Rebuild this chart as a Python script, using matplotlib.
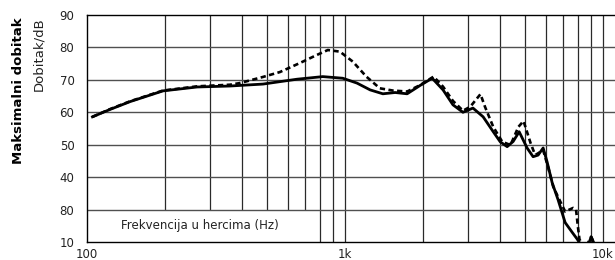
import matplotlib.pyplot as plt
import numpy as np

# frequency response
solid_f = [105, 123, 147, 197, 267, 358, 481, 652, 820, 980, 1113, 1252, 1402, 1564,
           1741, 1957, 2177, 2399, 2621, 2866, 3133, 3431, 3755, 3996, 4251, 4485,
           4732, 5079, 5359, 5604, 5862, 6072, 6352, 6699, 6943, 7133, 7593, 7942,
           8304, 8761, 8999, 9242]
solid_db = [58.6, 60.9, 63.3, 66.6, 67.8, 68.1, 68.7, 70.2, 71.0, 70.5, 69.0, 66.9,
            65.7, 66.1, 65.7, 68.3, 70.5, 66.9, 62.3, 60.0, 61.3, 58.6, 54.0, 50.9,
            49.4, 51.0, 54.0, 49.0, 46.3, 46.8, 49.0, 44.7, 38.3, 33.0, 29.0, 26.0,
            23.0, 20.9, 18.5, 19.0, 21.6, 19.5]

dashed_f = [105, 123, 147, 197, 267, 358, 391, 481, 559, 669, 779, 858, 956, 1073,
            1210, 1364, 1533, 1741, 1957, 2205, 2399, 2621, 2866, 3058, 3350, 3488,
            3755, 4070, 4380, 4700, 4920, 5240, 5458, 5862, 6130, 6416, 6780, 7133,
            7660, 7862, 7985, 8107, 8517, 8999, 9242]
dashed_db = [58.6, 61.0, 63.4, 66.7, 68.0, 68.5, 69.0, 70.9, 72.4, 75.2, 77.7, 79.2,
             78.7, 75.6, 71.0, 67.4, 66.7, 66.4, 68.4, 71.0, 67.9, 63.5, 60.5, 61.7,
             65.6, 61.7, 55.5, 50.9, 49.9, 55.5, 57.3, 50.5, 46.8, 48.3, 43.0, 37.0,
             33.0, 29.4, 30.5, 30.0, 25.0, 20.8, 18.0, 21.6, 19.5]

y_ticks = [90, 80, 70, 60, 50, 40, 30, 20]
y_labels = ['90', '80', '70', '60', '50', '40', '80', '10']
x_ticks = [100, 1000, 10000]
x_labels = ['100', '1k', '10k']

fig = plt.figure(figsize=(6.15, 2.60), dpi=100)
ax = fig.add_axes([87 / 615, 1 - 242 / 260, 1 - 87 / 615, 227 / 260])
ax.set_xscale('log')
ax.set_xlim(100, 100 * 10 ** (528 / 258))
ax.set_ylim(20, 90)

# grid, vertical lines stop above the label box below 800 Hz
gc = '#2a2a2a'
for dec in [100, 1000]:
    for m in range(1, 10):
        f = dec * m
        if f == 100:
            continue
        ax.vlines(f, 30 if f < 800 else 20, 90, color=gc, lw=0.9, zorder=1)
ax.vlines(10000, 20, 90, color=gc, lw=0.9, zorder=1)
for v in y_ticks[1:-1]:
    ax.hlines(v, 100, 1e5, color='#505050', lw=1.0, zorder=1)

ax.plot(dashed_f, dashed_db, color='black', lw=1.9, ls=(0, (2.0, 1.3)), zorder=3)
ax.plot(solid_f, solid_db, color='black', lw=2.0, zorder=4)

ax.text(274, 25, 'Frekvencija u hercima (Hz)', ha='center', va='center',
        fontsize=8.5, color='#222222')

ax.set_yticks(y_ticks)
ax.set_yticklabels(y_labels)
ax.set_xticks(x_ticks)
ax.set_xticklabels(x_labels)
ax.minorticks_off()
ax.tick_params(length=0, labelsize=8.5, colors='#222222')
ax.tick_params(axis='y', pad=9)
ax.tick_params(axis='x', pad=4)
for side in ['left', 'bottom', 'top']:
    ax.spines[side].set_color('black')
    ax.spines[side].set_linewidth(1.0)
ax.spines['right'].set_visible(False)

fig.text(19 / 615, 1 - 17 / 260, 'Maksimalni dobitak', rotation=90, ha='center',
         va='top', fontsize=9.5, fontweight='bold')
fig.text(39 / 615, 1 - 17 / 260, 'Dobitak/dB', rotation=90, ha='center',
         va='top', fontsize=9.5, color='#222222')

fig.savefig('out.png', dpi=100)
